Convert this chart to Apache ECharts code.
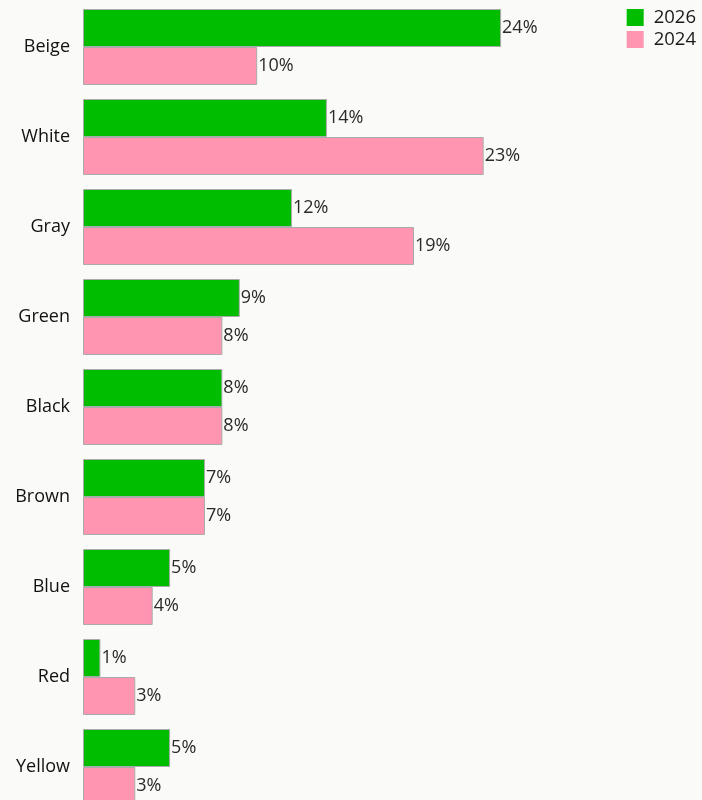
<!DOCTYPE html>
<html>
<head>
<meta charset="utf-8">
<script src="https://cdn.jsdelivr.net/npm/echarts@6/dist/echarts.min.js"></script>
<style>
  html, body { margin: 0; padding: 0; background: #fafaf8; }
  #chart { width: 702px; height: 800px; }
</style>
</head>
<body>
<div id="chart"></div>
<script>
// Colour preferences by share of respondents (%)
const categories = ['Beige', 'White', 'Gray', 'Green', 'Black', 'Brown', 'Blue', 'Red', 'Yellow'];
const values2026 = [24, 14, 12, 9, 8, 7, 5, 1, 5];
const values2024 = [10, 23, 19, 8, 8, 7, 4, 3, 3];
const seriesNames = ['2026', '2024'];
const seriesColors = ['#00bd00', '#ff95b0'];

const FONT = '"Open Sans", Roboto, sans-serif';

const chart = echarts.init(document.getElementById('chart'), null, { renderer: 'canvas' });

const labelStyle = {
  show: true,
  position: 'right',
  distance: 1,
  formatter: p => p.value + '%',
  color: '#2a2a2a',
  fontSize: 18,
  fontFamily: FONT
};

chart.setOption({
  backgroundColor: '#fafaf8',
  animation: false,
  legend: {
    orient: 'vertical',
    top: 3,
    right: 1,
    itemWidth: 17,
    itemHeight: 17,
    itemGap: 3,
    icon: 'rect',
    itemStyle: { borderWidth: 0 },
    textStyle: { fontSize: 18.5, color: '#1a1a1a', fontFamily: FONT, padding: [0, 0, 0, 5] },
    data: seriesNames
  },
  // plot area runs past the bottom edge so the last row is clipped
  grid: {
    left: 83, width: 522.6, top: 2, height: 810,
    containLabel: false, outerBoundsMode: 'none'
  },
  xAxis: {
    type: 'value',
    min: 0,
    max: 30,
    show: false
  },
  yAxis: {
    type: 'category',
    inverse: true,
    data: categories,
    axisLine: { show: false },
    axisTick: { show: false },
    splitLine: { show: false },
    axisLabel: { fontSize: 18, color: '#111', margin: 13, fontFamily: FONT }
  },
  series: seriesNames.map((name, i) => ({
    name,
    type: 'bar',
    data: i === 0 ? values2026 : values2024,
    barWidth: 38,
    barGap: '0%',
    itemStyle: { color: seriesColors[i], borderColor: '#aaaaaa', borderWidth: 1 },
    label: labelStyle
  }))
});
</script>
</body>
</html>
